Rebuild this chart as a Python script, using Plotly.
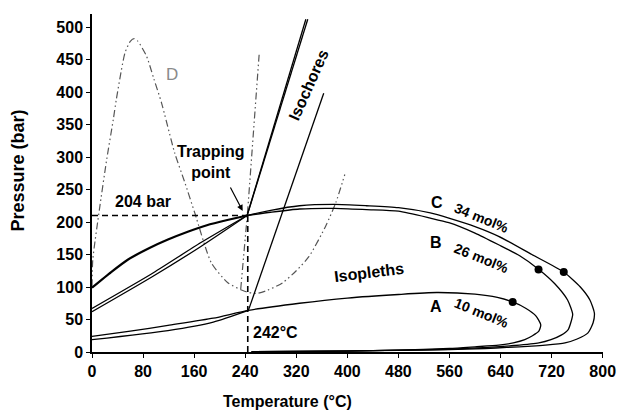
import plotly.graph_objects as go

# ---------------- data ----------------
# Isopleth C (34 mol%): low-T branch up to the trapping point
c_left_x = [0, 30, 56, 90, 119, 150, 180, 212, 243]
c_left_y = [99, 123, 142, 160, 173, 185, 195, 203, 210]
# Isopleth C beyond the trapping point: dew side, nose, bubble side
c_x = [243, 280, 325, 380, 430, 480, 530, 559, 600, 637, 689, 739, 765, 780, 787, 785, 777, 760, 741, 710, 689, 650, 616, 559, 480, 400, 320, 250]
c_y = [210, 218, 225, 227, 225, 222, 214, 206, 193, 178, 150, 123, 100, 80, 60, 45, 29.5, 20, 14, 10.5, 9, 7, 5.4, 3.8, 2.5, 1.5, 1, 0.6]

# Isopleth B (26 mol%) from trapping point
b_x = [243, 280, 325, 380, 430, 480, 530, 559, 600, 637, 670, 700, 725, 745, 753, 750, 746, 735, 719, 700, 662, 620, 559, 480, 400, 320, 250]
b_y = [210, 215, 220, 221, 219, 216.6, 206, 199, 183, 165, 148, 127, 105, 80, 58, 45, 34.6, 26, 19, 14, 10, 7, 4.2, 2.8, 1.7, 1, 0.6]

# Isopleth A (10 mol%)
a_x = [0, 60, 119, 190, 245, 325, 400, 480, 540, 600, 635, 659, 680, 695, 703, 700, 690, 678, 660, 637, 600, 560, 480, 400, 320, 250]
a_y = [24, 32, 41, 52, 64, 75, 83, 88.5, 91.5, 89, 84, 77, 67, 56, 42, 32, 25, 19, 14, 10.5, 8, 5.5, 3, 1.5, 0.8, 0.5]

# Isochores through the upper trapping point (two near-identical lines)
iso1_left_x = [0, 93, 170, 243]
iso1_left_y = [67, 120, 168, 210]
iso1_right_x = [243, 335]
iso1_right_y = [210, 512]
iso2_left_x = [0, 93, 170, 243]
iso2_left_y = [62, 115, 162, 210]
iso2_right_x = [243, 338]
iso2_right_y = [210, 512]

# Isochore through the lower homogenisation point
iso3_left_x = [0, 119, 190, 245]
iso3_left_y = [19, 33, 46, 64]
iso3_right_x = [245, 363]
iso3_right_y = [64, 398]

# Curve D (dash-dot)
d_x = [0, 1.2, 11.6, 23, 33.4, 38, 51.6, 60, 66, 72, 85.5, 97, 109, 129.6, 145, 161, 187, 212.8, 239, 257, 275, 298.6, 320, 340, 366, 382, 396]
d_y = [101, 142, 219, 296, 358, 388, 460, 478, 482, 478, 455, 420, 383, 306, 262, 214, 137, 106.5, 93.5, 90, 95, 106.5, 125, 147, 193.5, 230, 273]
d2_x = [233, 244, 262]
d2_y = [97, 219, 460]

# End points of dew curves (critical points)
dot_x = [739, 699.5, 659]
dot_y = [123, 127, 77]

# Trapping point
trap_T = 243
trap_P = 210

x_ticks = [0, 80, 160, 240, 320, 400, 480, 560, 640, 720, 800]
y_ticks = [0, 50, 100, 150, 200, 250, 300, 350, 400, 450, 500]

# ---------------- figure ----------------
FONT = "Liberation Sans, Arial, sans-serif"
fig = go.Figure()

def line(x, y, width=1.3, color="black", dash="solid", shape="spline"):
    ln = dict(color=color, width=width, dash=dash, shape=shape)
    if shape == "spline":
        ln["smoothing"] = 0.6
    fig.add_trace(go.Scatter(x=x, y=y, mode="lines", line=ln, showlegend=False, hoverinfo="skip"))

DD = "7px,3px,1.5px,3px,1.5px,3px"
line(d_x, d_y, width=1.2, color="#555555", dash=DD)
line(d2_x, d2_y, width=1.2, color="#555555", dash=DD, shape="linear")

# dashed guides
line([0, trap_T], [trap_P, trap_P], width=1.6, dash="6px,4px", shape="linear")
line([trap_T + 1, trap_T + 1], [0, trap_P], width=1.6, dash="6px,4px", shape="linear")

line(iso1_left_x, iso1_left_y)
line(iso1_right_x, iso1_right_y, shape="linear")
line(iso2_left_x, iso2_left_y)
line(iso2_right_x, iso2_right_y, shape="linear")
line(iso3_left_x, iso3_left_y)
line(iso3_right_x, iso3_right_y, shape="linear")
line(a_x, a_y)
line(b_x, b_y)
line(c_left_x, c_left_y, width=2.2)
line(c_x, c_y)

fig.add_trace(go.Scatter(x=dot_x, y=dot_y, mode="markers",
                         marker=dict(color="black", size=8), showlegend=False, hoverinfo="skip"))

def note(text, x, y, size=16, angle=0, color="black", weight="bold"):
    fig.add_annotation(x=x, y=y, text=text, showarrow=False, textangle=angle,
                       xanchor="center", yanchor="middle",
                       font=dict(family=FONT, size=size, color=color, weight=weight))

note("D", 125, 427, size=17, color="#8a8a8a", weight="normal")
note("Trapping<br>point", 187, 292)
note("204 bar", 80, 232)
note("242°C", 288, 30.5)
note("Isochores", 340, 411, angle=-66)
note("Isopleths", 434, 122, angle=-7)
note("C", 540.6, 229.5)
note("B", 539.5, 168)
note("A", 539.5, 69.5)
note("34 mol%", 610.6, 206.5, size=14, angle=22)
note("26 mol%", 609.6, 145, size=14, angle=22)
note("10 mol%", 610.6, 60, size=14, angle=22)

# arrow to trapping point
fig.add_annotation(x=236, y=217, ax=-13, ay=-25, axref="pixel", ayref="pixel", text="",
                   showarrow=True, arrowhead=2, arrowsize=1, arrowwidth=1.2, arrowcolor="black")

# axis titles
fig.add_annotation(x=-0.144, y=0.538, xref="paper", yref="paper", text="Pressure (bar)", showarrow=False,
                   textangle=-90, xanchor="center", yanchor="middle",
                   font=dict(family=FONT, size=18, color="black", weight="bold"))
fig.add_annotation(x=0.382, y=-0.145, xref="paper", yref="paper", text="Temperature (°C)", showarrow=False,
                   xanchor="center", yanchor="middle",
                   font=dict(family=FONT, size=16, color="black", weight="bold"))

axis_common = dict(showgrid=False, zeroline=False, showline=True, linecolor="black", linewidth=1.5,
                   ticks="outside", ticklen=4, tickwidth=1.3, tickcolor="black",
                   ticklabeloverflow="allow", automargin=False,
                   tickfont=dict(family=FONT, size=16, color="black", weight="bold"))
fig.update_xaxes(range=[0, 800.5], tickvals=x_ticks, ticktext=[str(v) for v in x_ticks], **axis_common)
fig.update_yaxes(range=[0, 520], tickvals=y_ticks, ticktext=[str(v) for v in y_ticks], **axis_common)

fig.update_layout(width=617, height=413, margin=dict(l=92, r=14, t=14, b=61),
                  plot_bgcolor="white", paper_bgcolor="white")

fig.write_html("out.html")
